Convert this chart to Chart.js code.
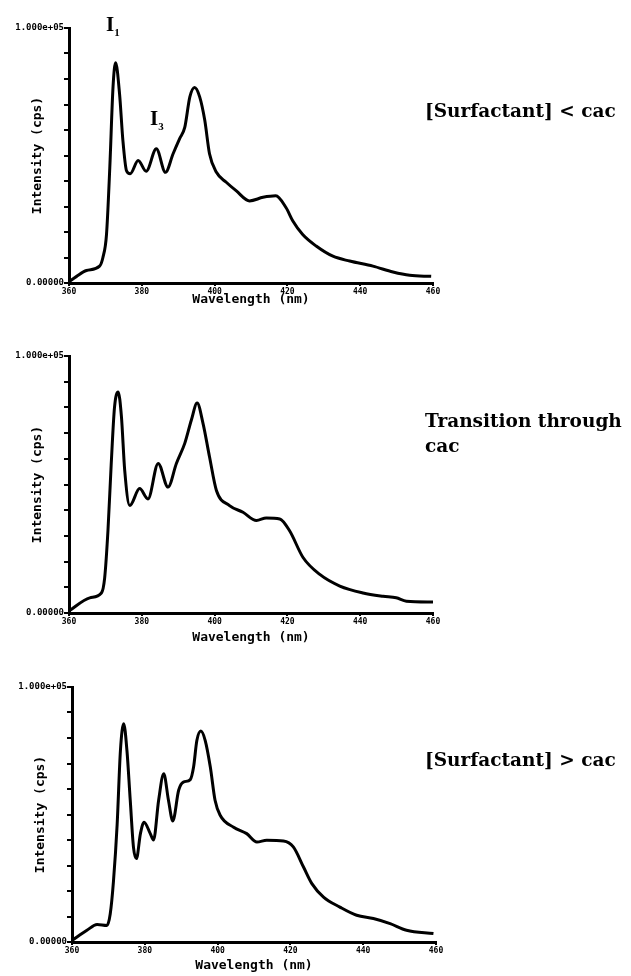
<!DOCTYPE html>
<html>
<head>
<meta charset="utf-8">
<script src="https://cdn.jsdelivr.net/npm/chart.js@4/dist/chart.umd.min.js"></script>
<style>
  body { margin: 0; background: #fff; width: 631px; height: 976px; position: relative; overflow: hidden; }
  canvas { position: absolute; }
  .cap { position: absolute; font-family: "DejaVu Serif", serif; font-weight: bold; font-size: 18.5px; color: #000; white-space: nowrap; line-height: 25px; }
  .peak { position: absolute; font-family: "Liberation Serif", serif; font-weight: bold; font-size: 21px; color: #000; }
  .peak sub { font-size: 11px; }
</style>
</head>
<body>
<canvas id="c1"></canvas>
<canvas id="c2"></canvas>
<canvas id="c3"></canvas>
<div class="peak" style="left:106px; top:12px;">I<sub>1</sub></div>
<div class="peak" style="left:150px; top:106px;">I<sub>3</sub></div>
<div class="cap" style="left:425px; top:98px;">[Surfactant] &lt; cac</div>
<div class="cap" style="left:425px; top:408px;">Transition through<br>cac</div>
<div class="cap" style="left:425px; top:747px;">[Surfactant] &gt; cac</div>
<script>
  // spectra (wavelength in nm, intensity in cps)
  const wl1 = [360, 362, 364.8, 368.4, 369.3, 370.3, 371.2, 372.1, 372.8, 373.9, 374.8, 375.8, 376.8, 379.0, 381.2, 384.0, 386.5, 388.6, 390.4, 391.8, 393.2, 394.5, 395.9, 397.3, 398.6, 400.5, 403.2, 405.9, 409.6, 413.3, 416.8, 419.6, 421.5, 424.2, 427.9, 432.5, 437.1, 443.5, 449, 453.6, 459.5];
  const int1 = [500, 2500, 4900, 6600, 9900, 19000, 45000, 77000, 86400, 74000, 56000, 44000, 42800, 48000, 43800, 52600, 43400, 50700, 56600, 61000, 73000, 76700, 73000, 63800, 50700, 43400, 39500, 36200, 32200, 33600, 34200, 29600, 24300, 19000, 14500, 10500, 8600, 6600, 4300, 3000, 2600];

  const wl2 = [360, 365.7, 368.9, 369.8, 370.7, 371.6, 372.5, 373.5, 374.4, 375.3, 376.7, 379.4, 381.7, 384.5, 387.2, 389.5, 391.8, 393.6, 395.2, 396.8, 398.6, 400.5, 404.1, 407.8, 411.5, 414.2, 417.9, 420.6, 424.3, 428.9, 434.4, 440.8, 446.3, 449.9, 452.7, 460];
  const int2 = [800, 5900, 7800, 13700, 32000, 58000, 80000, 86000, 76500, 55600, 41800, 48400, 44400, 58200, 49000, 58200, 66000, 75000, 81700, 73900, 60800, 47700, 41800, 39200, 36000, 37000, 36600, 32000, 21600, 15000, 10500, 7800, 6500, 5900, 4600, 4300];

  const wl3 = [360, 364.1, 366.9, 369.6, 370.5, 371.4, 372.4, 373.3, 374.2, 375.1, 376.0, 376.9, 377.7, 378.8, 379.8, 381.5, 382.4, 383.8, 385.2, 386.5, 387.7, 389.3, 390.6, 392.5, 393.4, 394.3, 395.4, 396.6, 398.0, 399.3, 400.7, 404.4, 408.0, 410.8, 413.5, 418.1, 420.8, 423.6, 425.9, 429.1, 433.6, 438.2, 442.8, 447.4, 451.9, 459.3];
  const int3 = [600, 4600, 6900, 6500, 11000, 24000, 46000, 75000, 85600, 75000, 55600, 37000, 32700, 42500, 47000, 42500, 40000, 55600, 66000, 55600, 47500, 59500, 62700, 63700, 68600, 79000, 82700, 79000, 68600, 55600, 49700, 45000, 42500, 39200, 39900, 39600, 37300, 29400, 22900, 17600, 13700, 10500, 9200, 7200, 4600, 3300];

  const xMin = 360, xMax = 460, xStep = 20;
  const yMin = 0, yMax = 100000, yStep = 10000;
  const yLabels = { 0: '0.00000', 100000: '1.000e+05' };

  const mono = 'DejaVu Sans Mono';

  function drawSpectrum(id, wl, vals, box) {
    const cv = document.getElementById(id);
    cv.style.left = box.left + 'px';
    cv.style.top = box.top + 'px';
    cv.width = box.w;
    cv.height = box.h;
    cv.style.width = box.w + 'px';
    cv.style.height = box.h + 'px';

    new Chart(cv, {
      type: 'line',
      data: {
        datasets: [{
          data: wl.map((x, i) => ({ x: x, y: vals[i] })),
          borderColor: '#000',
          borderWidth: 3,
          pointRadius: 0,
          fill: false,
          cubicInterpolationMode: 'monotone'
        }]
      },
      options: {
        responsive: false,
        animation: false,
        events: [],
        layout: { padding: { top: box.padTop, right: 12, left: 0, bottom: 0 } },
        plugins: { legend: { display: false }, tooltip: { enabled: false } },
        scales: {
          x: {
            type: 'linear',
            min: xMin, max: xMax,
            afterFit: s => { s.height = box.xh; },
            border: { display: true, color: '#000', width: 3 },
            grid: { drawOnChartArea: false, drawTicks: true, tickLength: 3, color: '#000', lineWidth: 2 },
            ticks: { stepSize: xStep, padding: 1, color: '#000', font: { family: mono, size: 8, weight: 'bold' }, maxRotation: 0 },
            title: { display: true, text: 'Wavelength (nm)', color: '#000', padding: 0, font: { family: mono, size: 13, weight: 'bold' } }
          },
          y: {
            min: yMin, max: yMax,
            afterFit: s => { s.width = box.yw; },
            border: { display: true, color: '#000', width: 3 },
            grid: { drawOnChartArea: false, drawTicks: true, tickLength: 5, color: '#000', lineWidth: 2 },
            ticks: {
              stepSize: yStep, padding: 0, color: '#000', autoSkip: false,
              font: { family: mono, size: 9, weight: 'bold' },
              callback: v => yLabels[v] || ''
            },
            title: { display: true, text: 'Intensity (cps)', color: '#000', padding: { top: 30, bottom: 0 }, font: { family: mono, size: 13, weight: 'bold' } }
          }
        }
      }
    });
  }

  drawSpectrum('c1', wl1, int1, { left: 0, top: 0, w: 445, h: 307, padTop: 28, xh: 24, yw: 69 });
  drawSpectrum('c2', wl2, int2, { left: 0, top: 330, w: 445, h: 315, padTop: 26, xh: 32, yw: 69 });
  drawSpectrum('c3', wl3, int3, { left: 3, top: 660, w: 445, h: 313, padTop: 27, xh: 31, yw: 69 });
</script>
</body>
</html>
